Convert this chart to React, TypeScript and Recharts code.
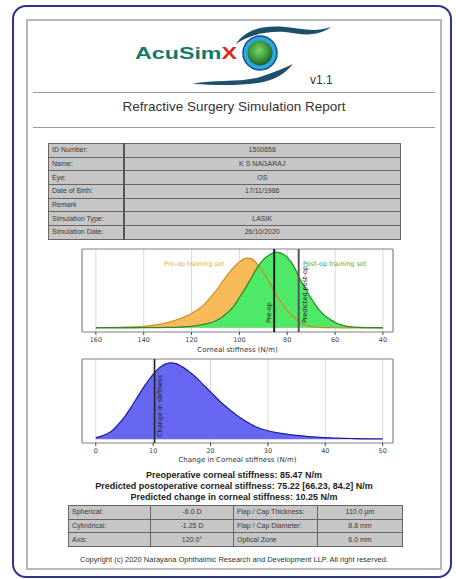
import React from 'react';
import {
  Area,
  CartesianGrid,
  ComposedChart,
  Line,
  ReferenceArea,
  ReferenceDot,
  ReferenceLine,
  XAxis,
  YAxis,
} from 'recharts';

// corneal stiffness (N/m) and the two training-set densities, scaled so the post-op peak is 1
const stiffness = [160, 150, 140, 135, 130, 125, 120, 115, 110, 105, 102, 100, 98, 97, 95, 93, 92, 90, 87, 85, 83, 80, 77, 75, 72, 70, 67, 65, 62, 60, 57, 55, 50, 45, 40];
const preOpSet = [0.003, 0.008, 0.02, 0.04, 0.07, 0.12, 0.19, 0.3, 0.48, 0.7, 0.81, 0.87, 0.91, 0.92, 0.91, 0.86, 0.82, 0.73, 0.57, 0.45, 0.36, 0.23, 0.13, 0.075, 0.035, 0.02, 0.008, 0.004, 0.002, 0.001, 0, 0, 0, 0, 0];
const postOpSet = [0.001, 0.001, 0.002, 0.003, 0.005, 0.01, 0.02, 0.045, 0.09, 0.2, 0.3, 0.4, 0.5, 0.55, 0.66, 0.77, 0.82, 0.9, 0.97, 1.0, 0.99, 0.93, 0.8, 0.66, 0.5, 0.39, 0.25, 0.18, 0.11, 0.07, 0.035, 0.02, 0.006, 0.002, 0.001];
const stiffnessTicks = [160, 140, 120, 100, 80, 60, 40];

// change in corneal stiffness (N/m)
const change = [0, 1, 2, 3, 4, 5, 6, 7, 8, 9, 10, 11, 12, 13, 14, 15, 16, 17, 18, 20, 22, 25, 28, 30, 32, 35, 38, 40, 45, 50];
const changeDensity = [0.02, 0.04, 0.07, 0.12, 0.2, 0.29, 0.4, 0.52, 0.64, 0.75, 0.85, 0.93, 0.98, 1.0, 0.99, 0.95, 0.9, 0.84, 0.77, 0.62, 0.47, 0.29, 0.16, 0.11, 0.08, 0.05, 0.03, 0.02, 0.008, 0.004];
const changeTicks = [0, 10, 20, 30, 40, 50];

const preOpValue = 85.47;
const postOpValue = 75.22;
const changeValue = 10.25;

const patientRows = [
  ['ID Number:', '1500658'],
  ['Name:', 'K S NAGARAJ'],
  ['Eye:', 'OS'],
  ['Date of Birth:', '17/11/1986'],
  ['Remark', ''],
  ['Simulation Type:', 'LASIK'],
  ['Simulation Date:', '26/10/2020'],
];

const surgeryRows = [
  ['Spherical:', '-6.0 D', 'Flap / Cap Thickness:', '110.0 µm'],
  ['Cylindrical:', '-1.25 D', 'Flap / Cap Diameter:', '8.8 mm'],
  ['Axis:', '120.0°', 'Optical Zone', '6.0 mm'],
];

const corneaData = stiffness.map((x, i) => ({ x, pre: preOpSet[i], post: postOpSet[i] }));
const changeData = change.map((x, i) => ({ x, d: changeDensity[i] }));

const MPL = '"DejaVu Sans", sans-serif';
const ARIAL = '"Liberation Sans", Arial, sans-serif';

const RotLabel = ({ viewBox, text, dx, bottom }: any) => {
  if (!viewBox) return null;
  const x = viewBox.x + dx;
  const y = viewBox.y + viewBox.height - bottom;
  return (
    <text x={x} y={y} transform={`rotate(-90 ${x} ${y})`} fontSize={6.5} fontFamily={MPL} fill="#222">
      {text}
    </text>
  );
};

const tickStyle = { fontSize: 6.5, fill: '#444', fontFamily: MPL };

const StiffnessChart = () => (
  <ComposedChart width={345} height={110} data={corneaData} margin={{ top: 5, right: 12, left: 22, bottom: 0 }}>
    <CartesianGrid horizontal={false} stroke="#d9d9d9" />
    <XAxis
      dataKey="x"
      type="number"
      domain={[35.8, 165.8]}
      reversed
      allowDataOverflow
      ticks={stiffnessTicks}
      interval={0}
      axisLine={false}
      tickLine={{ stroke: '#444' }}
      tickSize={3}
      tick={tickStyle}
      height={22}
      label={{ value: 'Corneal stiffness (N/m)', position: 'insideBottom', offset: 2, fontSize: 7, fill: '#333', fontFamily: MPL }}
    />
    <YAxis hide domain={[-0.055, 1.04]} />
    <Area dataKey="pre" type="monotone" baseValue={0} fill="#f9bb58" fillOpacity={1} stroke="none" isAnimationActive={false} />
    <Area dataKey="post" type="monotone" baseValue={0} fill="#4fe968" fillOpacity={1} stroke="none" isAnimationActive={false} />
    <Line dataKey="pre" type="monotone" stroke="#c98c24" strokeWidth={1.2} dot={false} isAnimationActive={false} />
    <Line dataKey="post" type="monotone" stroke="#2c8a2c" strokeWidth={1.3} dot={false} isAnimationActive={false} />
    <ReferenceLine x={preOpValue} stroke="#1c1c1c" strokeWidth={2} label={<RotLabel text="Pre-op" dx={-3.5} bottom={9} />} />
    <ReferenceLine x={postOpValue} stroke="#555" strokeWidth={2} label={<RotLabel text="Predicted post-op" dx={8.5} bottom={9} />} />
    <ReferenceDot x={118.9} y={0.85} r={0} fill="none" stroke="none" label={{ value: 'Pre-op training set', position: 'center', fontSize: 6.5, fill: '#e3a94c', fontFamily: MPL }} />
    <ReferenceDot x={60.2} y={0.85} r={0} fill="none" stroke="none" label={{ value: 'Post-op training set', position: 'center', fontSize: 6.5, fill: '#3fae4a', fontFamily: MPL }} />
    <ReferenceArea x1={35.8} x2={165.8} y1={-0.055} y2={1.04} fill="none" stroke="#808080" strokeWidth={1} />
  </ComposedChart>
);

const ChangeChart = () => (
  <ComposedChart width={345} height={111} data={changeData} margin={{ top: 5, right: 12, left: 22, bottom: 0 }}>
    <CartesianGrid horizontal={false} stroke="#d9d9d9" />
    <XAxis
      dataKey="x"
      type="number"
      domain={[-2.4, 51.8]}
      allowDataOverflow
      ticks={changeTicks}
      interval={0}
      axisLine={false}
      tickLine={{ stroke: '#444' }}
      tickSize={3}
      tick={tickStyle}
      height={22}
      label={{ value: 'Change in Corneal stiffness (N/m)', position: 'insideBottom', offset: 3, fontSize: 7, fill: '#333', fontFamily: MPL }}
    />
    <YAxis hide domain={[-0.05, 1.05]} />
    <Area dataKey="d" type="monotone" baseValue={0} fill="#6767f2" fillOpacity={1} stroke="#1c1ca0" strokeWidth={1.2} isAnimationActive={false} />
    <ReferenceLine x={changeValue} stroke="#222" strokeWidth={1.5} label={<RotLabel text="Change in stiffness" dx={7.5} bottom={6} />} />
    <ReferenceArea x1={-2.4} x2={51.8} y1={-0.05} y2={1.05} fill="none" stroke="#808080" strokeWidth={1} />
  </ComposedChart>
);

const cell: React.CSSProperties = {
  border: '1px solid #666',
  padding: '0 3px',
  height: 12.7,
  fontSize: 7,
  color: '#3a3a3a',
  fontFamily: ARIAL,
  whiteSpace: 'nowrap',
  overflow: 'hidden',
  lineHeight: '12px',
};

const Logo = () => (
  <svg width={456} height={130} style={{ position: 'absolute', left: 0, top: 0 }}>
    <defs>
      <radialGradient id="iris" cx="45%" cy="40%" r="60%">
        <stop offset="0%" stopColor="#7ed36a" />
        <stop offset="60%" stopColor="#3c9a3e" />
        <stop offset="100%" stopColor="#1d5e2a" />
      </radialGradient>
    </defs>
    <path d="M236,44 C245,30 262,25 285,27 C300,28 314,33 331,27 C316,38 300,34 285,32 C265,31 250,35 236,44 Z" fill="#1d4e6c" />
    <path d="M192,84 C215,79 240,83 260,77 C273,73 284,68 293,64 C285,74 273,81 258,83 C238,86 214,85 192,84 Z" fill="#1d4e6c" />
    <circle cx={260} cy={53} r={17} fill="#2aa8e0" stroke="#1b4f86" strokeWidth={1.5} />
    <circle cx={260} cy={53} r={12.5} fill="url(#iris)" />
    <text x={135} y={59} fontSize={17} fontWeight="bold" fontFamily={ARIAL} fill="#17786c" textLength={102} lengthAdjust="spacingAndGlyphs">
      AcuSim<tspan fill="#e3241b">X</tspan>
    </text>
    <text x={310} y={84} fontSize={12} fontFamily={ARIAL} fill="#333">v1.1</text>
  </svg>
);

export default function App() {
  return (
    <div style={{ position: 'absolute', left: 0, top: 0, width: 456, height: 579, background: '#fff', overflow: 'hidden', fontFamily: ARIAL }}>
      <div style={{ position: 'absolute', left: 12, top: 5, width: 440, height: 573, border: '2px solid #2c3590', borderRadius: 14, boxSizing: 'border-box' }} />
      <div style={{ position: 'absolute', left: 26, top: 19, width: 416, height: 551, border: '2px solid #b8b8b8', boxSizing: 'border-box' }} />

      <Logo />

      <div style={{ position: 'absolute', left: 33, top: 92, width: 402, height: 1, background: '#999' }} />
      <div style={{ position: 'absolute', left: 26, top: 99, width: 416, textAlign: 'center', fontSize: 13.5, lineHeight: '16px', color: '#333' }}>
        Refractive Surgery Simulation Report
      </div>
      <div style={{ position: 'absolute', left: 33, top: 127, width: 402, height: 1, background: '#999' }} />

      <table style={{ position: 'absolute', left: 48, top: 143, width: 352, borderCollapse: 'collapse', tableLayout: 'fixed', background: '#c6c6c6', border: '1px solid #777' }}>
        <colgroup>
          <col style={{ width: 75 }} />
          <col style={{ width: 277 }} />
        </colgroup>
        <tbody>
          {patientRows.map(([k, v]) => (
            <tr key={k}>
              <td style={{ ...cell, borderRight: '2px solid #555' }}>{k}</td>
              <td style={{ ...cell, textAlign: 'center' }}>{v}</td>
            </tr>
          ))}
        </tbody>
      </table>

      <div style={{ position: 'absolute', left: 60, top: 244 }}>
        <StiffnessChart />
      </div>
      <div style={{ position: 'absolute', left: 60, top: 354 }}>
        <ChangeChart />
      </div>

      <div style={{ position: 'absolute', left: 26, top: 470, width: 416, textAlign: 'center', fontSize: 9, lineHeight: '11px', fontWeight: 'bold', color: '#222' }}>
        <div>Preoperative corneal stiffness: 85.47 N/m</div>
        <div>Predicted postoperative corneal stiffness: 75.22 [66.23, 84.2] N/m</div>
        <div>Predicted change in corneal stiffness: 10.25 N/m</div>
      </div>

      <table style={{ position: 'absolute', left: 68, top: 505, width: 334, borderCollapse: 'collapse', tableLayout: 'fixed', background: '#c6c6c6', border: '1px solid #777' }}>
        <colgroup>
          <col style={{ width: 82 }} />
          <col style={{ width: 83 }} />
          <col style={{ width: 84 }} />
          <col style={{ width: 85 }} />
        </colgroup>
        <tbody>
          {surgeryRows.map(([a, b, c, d]) => (
            <tr key={a}>
              <td style={cell}>{a}</td>
              <td style={{ ...cell, textAlign: 'center' }}>{b}</td>
              <td style={cell}>{c}</td>
              <td style={{ ...cell, textAlign: 'center' }}>{d}</td>
            </tr>
          ))}
        </tbody>
      </table>

      <div style={{ position: 'absolute', left: 26, top: 555, width: 416, textAlign: 'center', fontSize: 7.5, lineHeight: '10px', color: '#333' }}>
        Copyright (c) 2020 Narayana Ophthalmic Research and Development LLP. All right reserved.
      </div>
    </div>
  );
}
